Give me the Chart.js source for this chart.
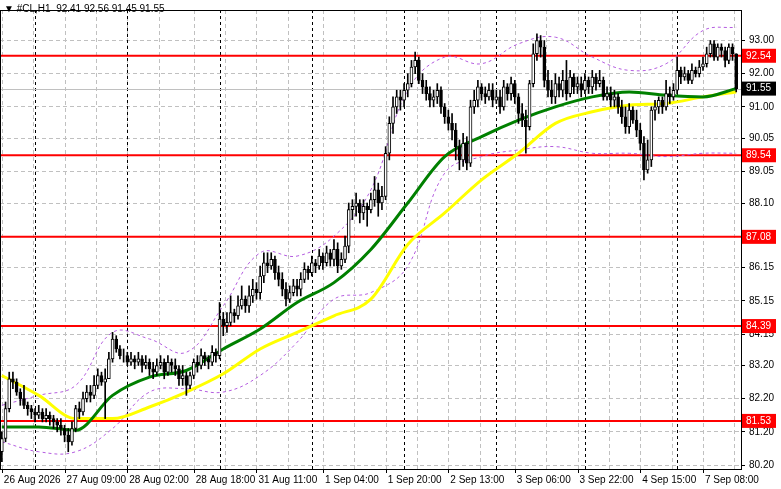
<!DOCTYPE html>
<html>
<head>
<meta charset="UTF-8">
<title>#CL,H1</title>
<script src="https://cdn.jsdelivr.net/npm/chart.js"></script>
<style>
  body { margin: 0; background: #fff; }
  #wrap { width: 781px; height: 489px; position: relative; }
</style>
</head>
<body>
<div id="wrap"><canvas id="chart"></canvas></div>
<script>
// closes, highs, lows per H1 bar (open = previous close)
const firstOpen = 80.6;
const closes = [
  81.0,81.9,82.8,82.7,82.4,82.2,82.0,81.9,81.8,81.7, 81.8,81.6,81.7,81.6,81.5,81.4,81.3,81.1,80.9,81.3,
  81.9,81.8,82.2,82.4,82.3,82.6,82.9,82.7,82.8,83.4, 84.0,83.7,83.5,83.5,83.3,83.4,83.3,83.4,83.2,83.3,
  83.1,83.0,83.2,83.3,83.0,83.3,83.2,83.1,82.8,82.9, 82.6,82.9,83.3,83.2,83.5,83.4,83.3,83.6,83.5,84.6,
  84.4,84.5,84.8,84.7,85.0,85.2,85.0,85.3,85.5,85.4, 85.9,86.3,86.2,86.4,86.0,85.8,85.5,85.2,85.4,85.6,
  85.5,85.8,86.1,86.0,86.3,86.2,86.5,86.3,86.6,86.4, 86.7,86.2,86.4,86.8,87.9,88.0,88.1,87.8,88.0,87.9,
  88.2,88.5,88.1,88.3,89.6,90.5,91.0,91.3,91.2,91.5, 91.7,92.2,92.4,91.8,91.6,91.4,91.2,91.3,91.5,91.0,
  90.7,90.5,90.3,89.8,89.4,89.9,89.3,91.0,91.2,91.6, 91.4,91.3,91.5,91.2,91.3,91.0,91.6,91.4,91.7,91.3,
  90.8,90.6,90.4,91.7,92.6,93.0,92.8,91.8,91.5,91.3, 91.7,91.5,91.8,91.4,91.9,91.6,91.7,91.5,91.8,91.6,
  91.9,91.7,91.8,91.3,91.4,91.2,91.3,91.0,90.7,90.4, 90.9,90.6,90.3,89.9,89.1,89.4,90.9,91.0,91.2,91.0,
  91.4,91.3,91.5,92.1,91.9,92.0,91.8,92.1,92.0,92.2, 92.3,92.6,92.9,92.5,92.8,92.7,92.4,92.8,92.6,91.55
];
const highs = [
  81.2,82.1,83.0,83.0,82.8,82.5,82.6,82.1,82.0,81.9, 82.0,81.9,81.9,81.8,81.7,81.6,81.6,81.4,81.3,81.5,
  82.0,82.1,82.4,82.6,82.6,82.9,83.1,83.0,83.1,83.6, 84.2,84.1,83.8,83.7,83.6,83.6,83.5,83.6,83.5,83.5,
  83.4,83.3,83.4,83.5,83.4,83.5,83.4,83.4,83.2,83.2, 83.0,83.0,83.4,83.5,83.7,83.6,83.5,83.8,83.7,85.1,
  84.8,84.8,85.3,84.9,85.3,85.6,85.3,85.6,85.8,85.7, 86.2,86.6,86.6,86.6,86.5,86.2,86.0,85.7,85.6,85.8,
  85.8,86.0,86.3,86.2,86.5,86.4,86.7,86.6,86.8,86.7, 87.0,86.9,86.6,87.1,88.1,88.2,88.4,88.2,88.2,88.1,
  88.4,88.9,88.7,88.6,89.8,90.7,91.3,91.5,91.5,91.7, 92.0,92.4,92.65,92.5,92.0,91.8,91.6,91.5,91.7,91.6,
  91.1,90.9,90.8,90.5,90.0,90.2,90.1,91.2,91.5,91.8, 91.7,91.6,91.7,91.7,91.5,91.5,91.8,91.7,91.9,91.8,
  91.4,91.1,90.9,91.8,92.9,93.2,93.15,93.0,92.1,91.8, 92.0,91.9,92.1,92.4,92.1,92.0,91.9,91.9,92.0,91.9,
  92.1,92.0,92.1,91.9,91.6,91.6,91.5,91.4,91.2,91.0, 91.1,91.0,90.9,90.5,90.1,90.0,91.0,91.2,91.3,91.3,
  91.8,91.6,91.7,92.5,92.2,92.2,92.1,92.3,92.2,92.4, 92.5,92.8,93.0,93.0,92.9,92.9,92.8,92.9,92.9,92.6
];
const lows = [
  80.3,80.9,81.8,82.5,82.3,82.0,81.9,81.7,81.6,81.5, 81.6,81.5,81.5,81.4,81.3,81.2,81.1,80.9,80.6,80.8,
  81.2,81.6,81.7,82.1,82.1,82.2,82.5,82.6,81.6,82.8, 83.3,83.6,83.4,83.3,83.2,83.2,83.1,83.2,83.0,83.1,
  82.9,82.8,82.9,83.1,82.8,82.9,83.0,82.9,82.6,82.6, 82.3,82.5,82.8,83.0,83.1,83.2,83.1,83.2,83.3,83.4,
  84.1,84.2,84.4,84.5,84.6,84.9,84.8,84.8,85.1,85.2, 85.2,85.7,86.0,86.1,85.8,85.6,85.3,85.0,85.1,85.3,
  85.3,85.3,85.7,85.8,85.9,86.0,86.1,86.1,86.2,86.2, 86.2,86.0,86.1,86.3,86.6,87.6,87.7,87.5,87.6,87.4,
  87.8,88.0,87.7,87.9,88.2,89.4,90.2,90.8,90.9,91.0, 91.3,91.6,92.0,91.7,91.4,91.2,91.0,91.0,91.1,90.8,
  90.5,90.3,90.0,89.4,89.1,89.2,89.1,89.2,90.8,91.0, 91.2,91.1,91.2,91.0,91.1,90.8,90.9,91.2,91.2,91.1,
  90.5,90.4,89.6,90.3,91.6,92.4,92.5,91.6,91.3,91.1, 91.1,91.3,91.3,91.2,91.3,91.4,91.4,91.3,91.4,91.4,
  91.4,91.5,91.6,91.2,91.2,91.0,91.0,90.8,90.5,90.2, 90.2,90.5,90.1,89.7,88.8,89.0,89.2,90.6,90.8,90.8,
  90.9,91.1,91.2,91.4,91.7,91.8,91.7,91.7,91.9,91.9, 92.1,92.2,92.5,92.4,92.4,92.5,92.2,92.3,92.4,91.45
];
// indicator lines read every 10 bars
const maIdx   = [0,10,20,30,40,50,60,70,80,90,100,110,120,130,140,150,160,170,180,190,199];
const maFast  = [81.35,81.35,81.25,82.3,82.85,83.05,83.7,84.3,85.1,85.7,86.7,88.1,89.5,90.1,90.6,91.0,91.3,91.45,91.35,91.3,91.55];
const maSlow  = [82.9,82.3,81.6,81.6,81.95,82.4,82.95,83.7,84.2,84.7,85.2,86.85,87.8,88.8,89.6,90.5,90.85,91.05,91.1,91.3,91.45];
const bandUp  = [82.0,82.3,82.6,84.2,84.0,83.6,85.0,86.6,86.5,87.1,88.5,91.5,92.5,92.3,92.9,93.1,92.5,92.1,92.3,93.3,93.4];
const bandDn  = [80.9,80.6,80.6,81.3,82.4,82.5,82.4,82.9,83.9,85.2,85.4,86.2,89.0,89.5,89.7,89.8,89.6,89.6,89.5,89.6,89.6];
const levels  = [92.54, 89.54, 87.08, 84.39, 81.53];
const lastPrice = 91.55;
const yTicks = [93.00,92.00,91.00,90.05,89.05,88.10,87.10,86.15,85.15,84.15,83.20,82.20,81.20,80.20];
const timeLabels = ['26 Aug 2026','27 Aug 09:00','28 Aug 02:00','28 Aug 18:00','31 Aug 11:00','1 Sep 04:00','1 Sep 20:00','2 Sep 13:00','3 Sep 06:00','3 Sep 22:00','4 Sep 15:00','7 Sep 08:00'];
const timeIdx = [0,17,34,52,69,87,104,121,139,156,173,190];
const dayIdx = [9,34,59,84,109,134,158,183];

const opens = closes.map((c, i) => i ? closes[i - 1] : firstOpen);
const wicks = closes.map((c, i) => ({ x: i, y: [lows[i], highs[i]] }));
const bodies = closes.map((c, i) => ({ x: i, y: [opens[i], c] }));
const bodyFill = closes.map((c, i) => c >= opens[i] ? '#ffffff' : '#000000');
const line = (arr) => maIdx.map((x, k) => ({ x: x, y: arr[k] }));

const overlay = {
  id: 'overlay',
  beforeDatasetsDraw(chart) {
    const { ctx, chartArea: a, scales: { x, y } } = chart;
    ctx.save();
    ctx.lineWidth = 1;
    // vertical grid
    ctx.setLineDash([4, 3]);
    for (let k = 0; k < timeIdx.length; k++) {
      [timeIdx[k], timeIdx[k] + 8.5].forEach(v => {
        const px = Math.round(x.getPixelForValue(v)) + 0.5;
        if (px < a.right) { ctx.strokeStyle = '#c0c0c0'; ctx.beginPath(); ctx.moveTo(px, a.top); ctx.lineTo(px, a.bottom); ctx.stroke(); }
      });
    }
    ctx.strokeStyle = '#000';
    ctx.setLineDash([3, 3]);
    dayIdx.forEach(v => {
      const px = Math.round(x.getPixelForValue(v)) + 0.5;
      ctx.beginPath(); ctx.moveTo(px, a.top); ctx.lineTo(px, a.bottom); ctx.stroke();
    });
    ctx.setLineDash([]);
    // last price line
    const lp = Math.round(y.getPixelForValue(lastPrice)) + 0.5;
    ctx.strokeStyle = '#c0c0c0';
    ctx.beginPath(); ctx.moveTo(a.left, lp); ctx.lineTo(a.right, lp); ctx.stroke();
    // levels
    ctx.strokeStyle = '#ff0000';
    ctx.lineWidth = 2;
    levels.forEach(v => {
      const py = y.getPixelForValue(v);
      ctx.beginPath(); ctx.moveTo(a.left, py); ctx.lineTo(a.right, py); ctx.stroke();
    });
    ctx.restore();
  },
  afterDraw(chart) {
    const { ctx, chartArea: a, scales: { x, y } } = chart;
    ctx.save();
    ctx.font = '10px "Liberation Sans"';
    ctx.textBaseline = 'middle';
    const tag = (v, bg) => {
      const py = y.getPixelForValue(v);
      ctx.fillStyle = bg;
      ctx.fillRect(a.right + 1, py - 7, 34, 14);
      ctx.fillStyle = '#fff';
      ctx.textAlign = 'left';
      ctx.fillText(v.toFixed(2), a.right + 5, py);
    };
    levels.forEach(v => tag(v, '#ff0000'));
    tag(lastPrice, '#000000');
    // time labels
    ctx.fillStyle = '#000';
    ctx.textBaseline = 'top';
    ctx.textAlign = 'left';
    timeLabels.forEach((t, k) => {
      const px = x.getPixelForValue(timeIdx[k]);
      ctx.fillRect(Math.round(px), a.bottom, 1, 4);
      ctx.fillText(t, px + 2, a.bottom + 6);
    });
    // title
    ctx.textBaseline = 'middle';
    ctx.fillText('\u25BC #CL,H1  92.41 92.56 91.45 91.55', 4, 9);
    // frame
    ctx.strokeStyle = '#000';
    ctx.lineWidth = 1;
    ctx.strokeRect(a.left + 0.5, a.top + 0.5, a.right - a.left, a.bottom - a.top);
    ctx.restore();
  }
};

new Chart(document.getElementById('chart'), {
  type: 'bar',
  data: {
    datasets: [
      { type: 'line', data: line(maSlow), borderColor: '#ffff00', borderWidth: 3, pointRadius: 0, cubicInterpolationMode: 'monotone', order: 3 },
      { type: 'line', data: line(maFast), borderColor: '#008000', borderWidth: 3, pointRadius: 0, cubicInterpolationMode: 'monotone', order: 2 },
      { type: 'line', data: line(bandUp), borderColor: '#b45ce0', borderWidth: 1, borderDash: [3, 3], pointRadius: 0, tension: 0.4, order: 4 },
      { type: 'line', data: line(bandDn), borderColor: '#b45ce0', borderWidth: 1, borderDash: [3, 3], pointRadius: 0, tension: 0.4, order: 4 },
      { data: wicks, backgroundColor: '#000', barThickness: 1, grouped: false, order: 1 },
      { data: bodies, backgroundColor: bodyFill, borderColor: '#000', borderWidth: 1, borderSkipped: false, barThickness: 3, grouped: false, order: 0 }
    ]
  },
  options: {
    responsive: true,
    maintainAspectRatio: false,
    animation: false,
    layout: { padding: { left: 0, top: -9, right: 0, bottom: 0 } },
    plugins: { legend: { display: false }, tooltip: { enabled: false } },
    scales: {
      x: {
        type: 'linear', min: -0.5, max: 200.3, offset: false,
        grid: { display: false }, border: { display: false },
        ticks: { display: false },
        afterFit: s => { s.height = 20; }
      },
      y: {
        position: 'right', min: 80.08, max: 93.92,
        afterBuildTicks: s => { s.ticks = yTicks.map(v => ({ value: v })); },
        ticks: { color: '#000', font: { family: 'Liberation Sans', size: 10 }, padding: 4, callback: v => v.toFixed(2) },
        grid: { color: '#c0c0c0', tickLength: 4, tickColor: '#000' },
        border: { display: false, dash: [4, 3] },
        afterFit: s => { s.width = 40; }
      }
    }
  },
  plugins: [overlay]
});
</script>
</body>
</html>
